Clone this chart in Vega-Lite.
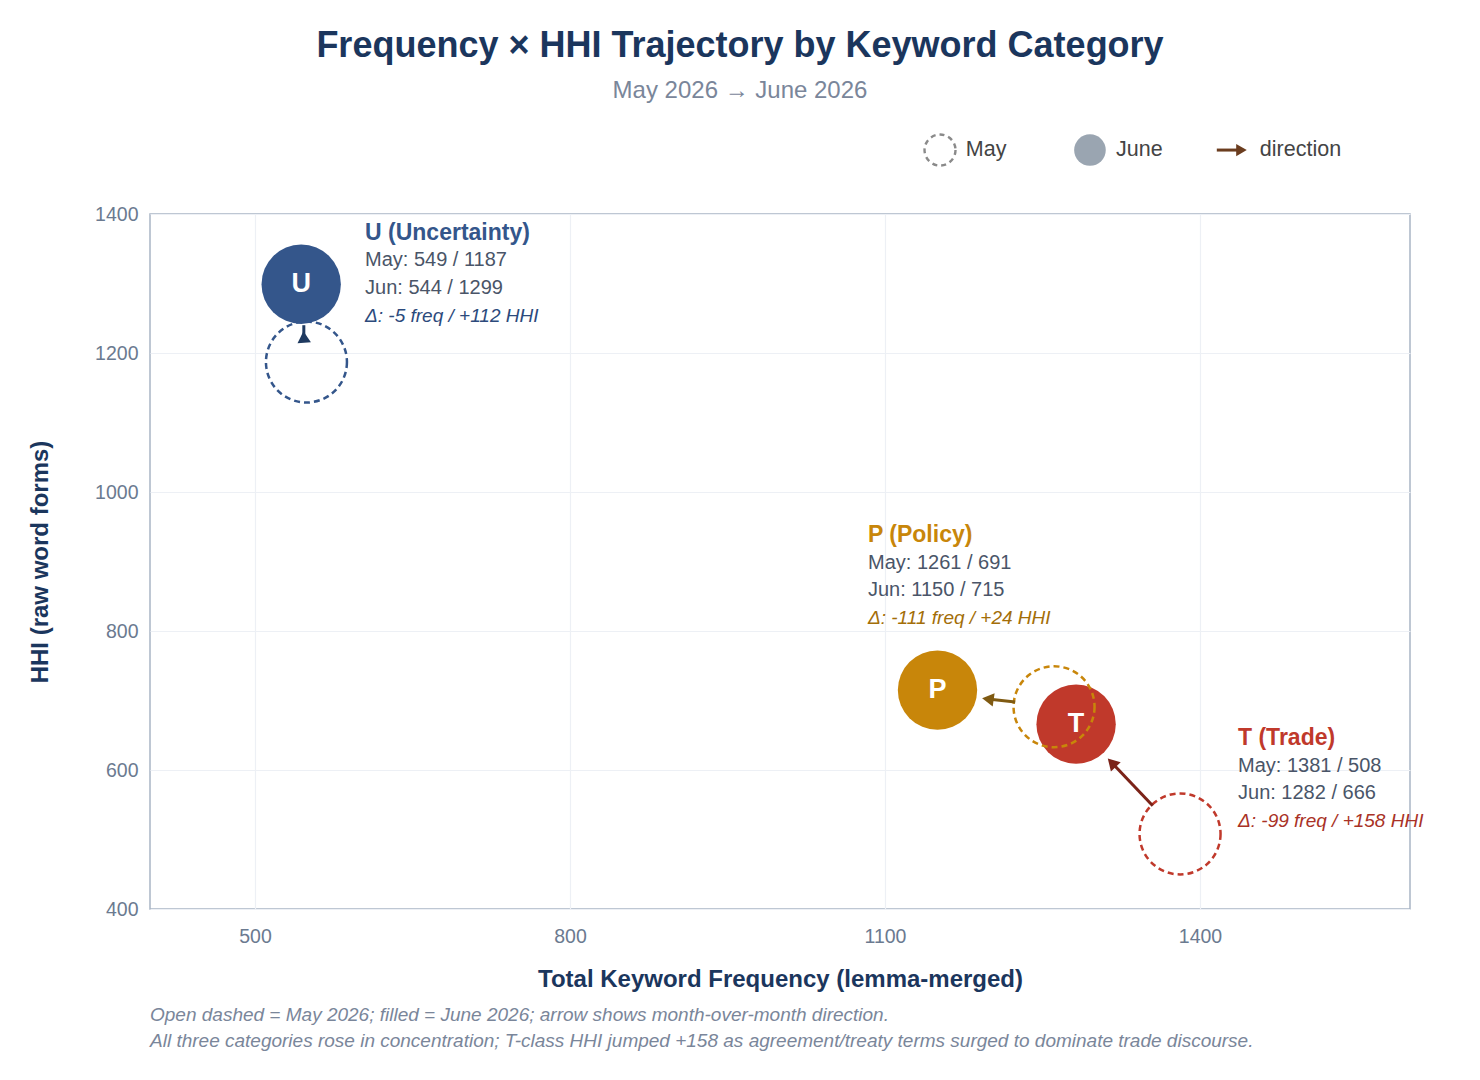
{
  "$schema": "https://vega.github.io/schema/vega-lite/v6.json",
  "width": 1260,
  "height": 695,
  "autosize": "none",
  "padding": {"left": 150, "top": 214, "right": 70, "bottom": 171},
  "background": "white",
  "title": {
    "text": "Frequency × HHI Trajectory by Keyword Category",
    "subtitle": "May 2026 → June 2026",
    "fontSize": 36,
    "fontWeight": "bold",
    "color": "#1B365D",
    "subtitleFontSize": 24,
    "subtitleColor": "#7a869a",
    "subtitlePadding": 14,
    "anchor": "middle",
    "frame": "group",
    "dx": -40,
    "offset": 26
  },
  "datasets": {
    "cats": [
      {"cat": "U", "name": "U (Uncertainty)", "may_f": 549, "may_h": 1187, "jun_f": 544, "jun_h": 1299, "tx": 546.5, "ty": 1240, "hx": 546.5, "hy": 1223, "lx": 604.8, "ly": 1372.7},
      {"cat": "P", "name": "P (Policy)", "may_f": 1261, "may_h": 691, "jun_f": 1150, "jun_h": 715, "tx": 1224, "ty": 698, "hx": 1198, "hy": 702, "lx": 1083.8, "ly": 938},
      {"cat": "T", "name": "T (Trade)", "may_f": 1381, "may_h": 508, "jun_f": 1282, "jun_h": 666, "tx": 1355, "ty": 548.6, "hx": 1316, "hy": 610.5, "lx": 1436.2, "ly": 646}
    ],
    "legend": [
      {"item": "May", "sx": 1152.4, "lx": 1177, "y": 1492},
      {"item": "June", "sx": 1295.2, "lx": 1320, "y": 1492},
      {"item": "direction", "sx": 1416, "sx2": 1439.5, "lx": 1457, "y": 1492}
    ],
    "notes": [
      {"line": "Open dashed = May 2026; filled = June 2026; arrow shows month-over-month direction.", "x": 400, "y": 247.5},
      {"line": "All three categories rose in concentration; T-class HHI jumped +158 as agreement/treaty terms surged to dominate trade discourse.", "x": 400, "y": 210}
    ]
  },
  "layer": [
    {
      "data": {"name": "cats"},
      "mark": {"type": "point", "filled": true, "opacity": 1, "size": 6300, "strokeWidth": 0},
      "encoding": {
        "x": {"field": "jun_f", "type": "quantitative", "scale": {"domain": [400, 1600], "nice": false, "zero": false}, "axis": {"values": [500, 800, 1100, 1400], "format": "d", "title": "Total Keyword Frequency (lemma-merged)"}},
        "y": {"field": "jun_h", "type": "quantitative", "scale": {"domain": [400, 1400], "nice": false, "zero": false}, "axis": {"values": [400, 600, 800, 1000, 1200, 1400], "format": "d", "title": "HHI (raw word forms)"}},
        "color": {"field": "cat", "type": "nominal", "legend": null, "scale": {"domain": ["U", "P", "T", "U_a", "P_a", "T_a", "U_d", "P_d", "T_d"], "range": ["#34568B", "#C8860A", "#C0392B", "#1f3a60", "#7f5a12", "#7b2318", "#2c4a7c", "#A36E08", "#A93226"]}}
      }
    },
    {
      "data": {"name": "cats"},
      "mark": {"type": "point", "filled": false, "opacity": 1, "size": 6560, "strokeWidth": 2.5, "strokeDash": [6, 4]},
      "encoding": {
        "x": {"field": "may_f", "type": "quantitative", "scale": {"domain": [400, 1600], "nice": false, "zero": false}, "axis": {"values": [500, 800, 1100, 1400], "format": "d", "title": "Total Keyword Frequency (lemma-merged)"}},
        "y": {"field": "may_h", "type": "quantitative", "scale": {"domain": [400, 1400], "nice": false, "zero": false}, "axis": {"values": [400, 600, 800, 1000, 1200, 1400], "format": "d", "title": "HHI (raw word forms)"}},
        "color": {"field": "cat", "type": "nominal", "legend": null, "scale": {"domain": ["U", "P", "T", "U_a", "P_a", "T_a", "U_d", "P_d", "T_d"], "range": ["#34568B", "#C8860A", "#C0392B", "#1f3a60", "#7f5a12", "#7b2318", "#2c4a7c", "#A36E08", "#A93226"]}}
      }
    },
    {
      "data": {"name": "cats"},
      "transform": [{"calculate": "datum.cat + '_a'", "as": "key"}],
      "mark": {"type": "rule", "strokeWidth": 3},
      "encoding": {
        "x": {"field": "tx", "type": "quantitative", "scale": {"domain": [400, 1600], "nice": false, "zero": false}, "axis": {"values": [500, 800, 1100, 1400], "format": "d", "title": "Total Keyword Frequency (lemma-merged)"}},
        "y": {"field": "ty", "type": "quantitative", "scale": {"domain": [400, 1400], "nice": false, "zero": false}, "axis": {"values": [400, 600, 800, 1000, 1200, 1400], "format": "d", "title": "HHI (raw word forms)"}},
        "x2": {"field": "hx"},
        "y2": {"field": "hy"},
        "color": {"field": "key", "type": "nominal", "legend": null, "scale": {"domain": ["U", "P", "T", "U_a", "P_a", "T_a", "U_d", "P_d", "T_d"], "range": ["#34568B", "#C8860A", "#C0392B", "#1f3a60", "#7f5a12", "#7b2318", "#2c4a7c", "#A36E08", "#A93226"]}}
      }
    },
    {
      "data": {"name": "cats"},
      "transform": [
        {"calculate": "datum.cat + '_a'", "as": "key"},
        {"calculate": "atan2((datum.jun_f - datum.may_f) * 1.05, (datum.jun_h - datum.may_h) * 0.695) * 180 / PI", "as": "ang"}
      ],
      "mark": {"type": "point", "shape": "triangle-up", "filled": true, "opacity": 1, "size": 180, "strokeWidth": 0},
      "encoding": {
        "x": {"field": "hx", "type": "quantitative", "scale": {"domain": [400, 1600], "nice": false, "zero": false}, "axis": {"values": [500, 800, 1100, 1400], "format": "d", "title": "Total Keyword Frequency (lemma-merged)"}},
        "y": {"field": "hy", "type": "quantitative", "scale": {"domain": [400, 1400], "nice": false, "zero": false}, "axis": {"values": [400, 600, 800, 1000, 1200, 1400], "format": "d", "title": "HHI (raw word forms)"}},
        "angle": {"field": "ang", "type": "quantitative", "scale": null},
        "color": {"field": "key", "type": "nominal", "legend": null, "scale": {"domain": ["U", "P", "T", "U_a", "P_a", "T_a", "U_d", "P_d", "T_d"], "range": ["#34568B", "#C8860A", "#C0392B", "#1f3a60", "#7f5a12", "#7b2318", "#2c4a7c", "#A36E08", "#A93226"]}}
      }
    },
    {
      "data": {"name": "cats"},
      "mark": {"type": "text", "color": "white", "fontSize": 27, "fontWeight": "bold", "baseline": "middle", "align": "center"},
      "encoding": {
        "x": {"field": "jun_f", "type": "quantitative", "scale": {"domain": [400, 1600], "nice": false, "zero": false}, "axis": {"values": [500, 800, 1100, 1400], "format": "d", "title": "Total Keyword Frequency (lemma-merged)"}},
        "y": {"field": "jun_h", "type": "quantitative", "scale": {"domain": [400, 1400], "nice": false, "zero": false}, "axis": {"values": [400, 600, 800, 1000, 1200, 1400], "format": "d", "title": "HHI (raw word forms)"}},
        "text": {"field": "cat"}
      }
    },
    {
      "data": {"name": "cats"},
      "mark": {"type": "text", "fontSize": 23, "fontWeight": "bold", "baseline": "middle", "align": "left"},
      "encoding": {
        "x": {"field": "lx", "type": "quantitative", "scale": {"domain": [400, 1600], "nice": false, "zero": false}, "axis": {"values": [500, 800, 1100, 1400], "format": "d", "title": "Total Keyword Frequency (lemma-merged)"}},
        "y": {"field": "ly", "type": "quantitative", "scale": {"domain": [400, 1400], "nice": false, "zero": false}, "axis": {"values": [400, 600, 800, 1000, 1200, 1400], "format": "d", "title": "HHI (raw word forms)"}},
        "text": {"field": "name"},
        "color": {"field": "cat", "type": "nominal", "legend": null, "scale": {"domain": ["U", "P", "T", "U_a", "P_a", "T_a", "U_d", "P_d", "T_d"], "range": ["#34568B", "#C8860A", "#C0392B", "#1f3a60", "#7f5a12", "#7b2318", "#2c4a7c", "#A36E08", "#A93226"]}}
      }
    },
    {
      "data": {"name": "cats"},
      "transform": [{"calculate": "'May: ' + datum.may_f + ' / ' + datum.may_h", "as": "t"}],
      "mark": {"type": "text", "fontSize": 20, "color": "#4a5568", "baseline": "middle", "align": "left", "dy": 27.5},
      "encoding": {
        "x": {"field": "lx", "type": "quantitative", "scale": {"domain": [400, 1600], "nice": false, "zero": false}, "axis": {"values": [500, 800, 1100, 1400], "format": "d", "title": "Total Keyword Frequency (lemma-merged)"}},
        "y": {"field": "ly", "type": "quantitative", "scale": {"domain": [400, 1400], "nice": false, "zero": false}, "axis": {"values": [400, 600, 800, 1000, 1200, 1400], "format": "d", "title": "HHI (raw word forms)"}},
        "text": {"field": "t"}
      }
    },
    {
      "data": {"name": "cats"},
      "transform": [{"calculate": "'Jun: ' + datum.jun_f + ' / ' + datum.jun_h", "as": "t"}],
      "mark": {"type": "text", "fontSize": 20, "color": "#4a5568", "baseline": "middle", "align": "left", "dy": 55},
      "encoding": {
        "x": {"field": "lx", "type": "quantitative", "scale": {"domain": [400, 1600], "nice": false, "zero": false}, "axis": {"values": [500, 800, 1100, 1400], "format": "d", "title": "Total Keyword Frequency (lemma-merged)"}},
        "y": {"field": "ly", "type": "quantitative", "scale": {"domain": [400, 1400], "nice": false, "zero": false}, "axis": {"values": [400, 600, 800, 1000, 1200, 1400], "format": "d", "title": "HHI (raw word forms)"}},
        "text": {"field": "t"}
      }
    },
    {
      "data": {"name": "cats"},
      "transform": [
        {"calculate": "datum.cat + '_d'", "as": "key"},
        {"calculate": "'Δ: ' + (datum.jun_f - datum.may_f > 0 ? '+' : '') + (datum.jun_f - datum.may_f) + ' freq / ' + (datum.jun_h - datum.may_h > 0 ? '+' : '') + (datum.jun_h - datum.may_h) + ' HHI'", "as": "t"}
      ],
      "mark": {"type": "text", "fontSize": 19, "fontStyle": "italic", "baseline": "middle", "align": "left", "dy": 83},
      "encoding": {
        "x": {"field": "lx", "type": "quantitative", "scale": {"domain": [400, 1600], "nice": false, "zero": false}, "axis": {"values": [500, 800, 1100, 1400], "format": "d", "title": "Total Keyword Frequency (lemma-merged)"}},
        "y": {"field": "ly", "type": "quantitative", "scale": {"domain": [400, 1400], "nice": false, "zero": false}, "axis": {"values": [400, 600, 800, 1000, 1200, 1400], "format": "d", "title": "HHI (raw word forms)"}},
        "text": {"field": "t"},
        "color": {"field": "key", "type": "nominal", "legend": null, "scale": {"domain": ["U", "P", "T", "U_a", "P_a", "T_a", "U_d", "P_d", "T_d"], "range": ["#34568B", "#C8860A", "#C0392B", "#1f3a60", "#7f5a12", "#7b2318", "#2c4a7c", "#A36E08", "#A93226"]}}
      }
    },
    {
      "data": {"name": "legend"},
      "transform": [{"filter": "datum.item == 'May'"}],
      "mark": {"type": "point", "filled": false, "size": 960, "strokeWidth": 2.4, "strokeDash": [5, 4], "color": "#8a8a8a", "opacity": 1},
      "encoding": {
        "x": {"field": "sx", "type": "quantitative", "scale": {"domain": [400, 1600], "nice": false, "zero": false}, "axis": {"values": [500, 800, 1100, 1400], "format": "d", "title": "Total Keyword Frequency (lemma-merged)"}},
        "y": {"field": "y", "type": "quantitative", "scale": {"domain": [400, 1400], "nice": false, "zero": false}, "axis": {"values": [400, 600, 800, 1000, 1200, 1400], "format": "d", "title": "HHI (raw word forms)"}}
      }
    },
    {
      "data": {"name": "legend"},
      "transform": [{"filter": "datum.item == 'June'"}],
      "mark": {"type": "point", "filled": true, "size": 1000, "strokeWidth": 0, "color": "#9aa5b1", "opacity": 1},
      "encoding": {
        "x": {"field": "sx", "type": "quantitative", "scale": {"domain": [400, 1600], "nice": false, "zero": false}, "axis": {"values": [500, 800, 1100, 1400], "format": "d", "title": "Total Keyword Frequency (lemma-merged)"}},
        "y": {"field": "y", "type": "quantitative", "scale": {"domain": [400, 1400], "nice": false, "zero": false}, "axis": {"values": [400, 600, 800, 1000, 1200, 1400], "format": "d", "title": "HHI (raw word forms)"}}
      }
    },
    {
      "data": {"name": "legend"},
      "transform": [{"filter": "datum.item == 'direction'"}],
      "mark": {"type": "rule", "strokeWidth": 3, "color": "#6b3d1f"},
      "encoding": {
        "x": {"field": "sx", "type": "quantitative", "scale": {"domain": [400, 1600], "nice": false, "zero": false}, "axis": {"values": [500, 800, 1100, 1400], "format": "d", "title": "Total Keyword Frequency (lemma-merged)"}},
        "x2": {"field": "sx2"},
        "y": {"field": "y", "type": "quantitative", "scale": {"domain": [400, 1400], "nice": false, "zero": false}, "axis": {"values": [400, 600, 800, 1000, 1200, 1400], "format": "d", "title": "HHI (raw word forms)"}}
      }
    },
    {
      "data": {"name": "legend"},
      "transform": [{"filter": "datum.item == 'direction'"}],
      "mark": {"type": "point", "shape": "triangle-up", "angle": 90, "filled": true, "size": 150, "strokeWidth": 0, "color": "#6b3d1f", "opacity": 1},
      "encoding": {
        "x": {"field": "sx2", "type": "quantitative", "scale": {"domain": [400, 1600], "nice": false, "zero": false}, "axis": {"values": [500, 800, 1100, 1400], "format": "d", "title": "Total Keyword Frequency (lemma-merged)"}},
        "y": {"field": "y", "type": "quantitative", "scale": {"domain": [400, 1400], "nice": false, "zero": false}, "axis": {"values": [400, 600, 800, 1000, 1200, 1400], "format": "d", "title": "HHI (raw word forms)"}}
      }
    },
    {
      "data": {"name": "legend"},
      "mark": {"type": "text", "fontSize": 21.5, "color": "#444444", "baseline": "middle", "align": "left"},
      "encoding": {
        "x": {"field": "lx", "type": "quantitative", "scale": {"domain": [400, 1600], "nice": false, "zero": false}, "axis": {"values": [500, 800, 1100, 1400], "format": "d", "title": "Total Keyword Frequency (lemma-merged)"}},
        "y": {"field": "y", "type": "quantitative", "scale": {"domain": [400, 1400], "nice": false, "zero": false}, "axis": {"values": [400, 600, 800, 1000, 1200, 1400], "format": "d", "title": "HHI (raw word forms)"}},
        "text": {"field": "item"}
      }
    },
    {
      "data": {"name": "notes"},
      "mark": {"type": "text", "fontSize": 19, "fontStyle": "italic", "color": "#7a869a", "baseline": "middle", "align": "left"},
      "encoding": {
        "x": {"field": "x", "type": "quantitative", "scale": {"domain": [400, 1600], "nice": false, "zero": false}, "axis": {"values": [500, 800, 1100, 1400], "format": "d", "title": "Total Keyword Frequency (lemma-merged)"}},
        "y": {"field": "y", "type": "quantitative", "scale": {"domain": [400, 1400], "nice": false, "zero": false}, "axis": {"values": [400, 600, 800, 1000, 1200, 1400], "format": "d", "title": "HHI (raw word forms)"}},
        "text": {"field": "line"}
      }
    }
  ],
  "config": {
    "font": "Liberation Sans",
    "view": {"stroke": "#a9b5c5", "strokeWidth": 1.5},
    "axis": {
      "domain": false,
      "ticks": false,
      "grid": true,
      "gridColor": "#edf0f5",
      "gridWidth": 1.2,
      "labelFontSize": 19.5,
      "labelColor": "#6b7a90",
      "titleFontSize": 24,
      "titleFontWeight": "bold",
      "titleColor": "#1B365D"
    },
    "axisX": {"labelPadding": 18, "titlePadding": 22},
    "axisY": {"labelPadding": 12, "titlePadding": 42}
  }
}
